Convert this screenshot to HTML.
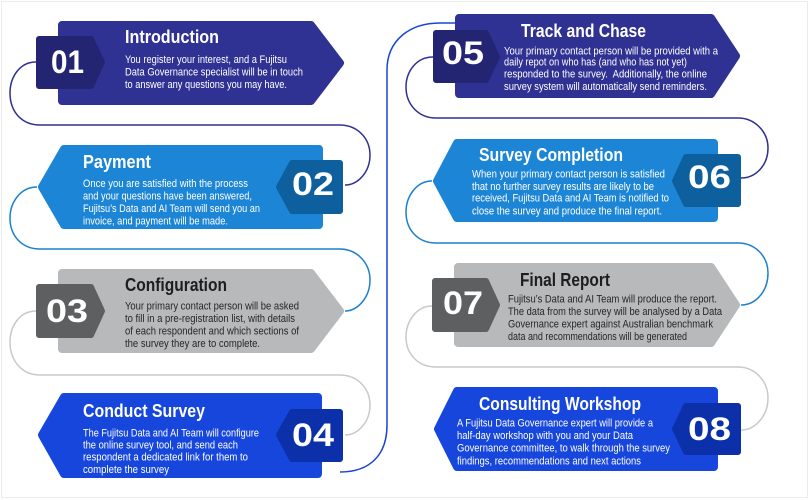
<!DOCTYPE html>
<html><head><meta charset="utf-8"><style>
html,body{margin:0;padding:0;background:#fff;}
svg{display:block;}
text{font-family:"Liberation Sans",Arial,sans-serif;}
.t{font-size:18px;font-weight:bold;fill:#fff;}
.td{font-size:18px;font-weight:bold;fill:#1e1e1e;}
.b{font-size:11px;fill:#fff;}
.bd{font-size:11px;fill:#262626;}
.n{font-size:32px;font-weight:bold;fill:#fff;}
</style></head><body>
<svg width="809" height="500" viewBox="0 0 809 500" xmlns="http://www.w3.org/2000/svg">
<rect x="0" y="0" width="809" height="500" fill="#fff"/>
<rect x="1.5" y="1.5" width="806" height="496" fill="none" stroke="#ececec" stroke-width="1"/>

<g fill="none" stroke-width="1.5">
<path d="M36 62 C19 62 10 78 10 93 C10 112 22 125 40 125 L340 125 C357 125 370 138 370 155 C370 172 358 185 345 185" stroke="#2e3192"/>
<path d="M37 187 C20 187 10 203 10 218 C10 236 22 249 40 249 L340 249 C357 249 370 263 370 280 C370 297 358 311 345 311" stroke="#1b7fd0"/>
<path d="M36 311 C19 311 10 327 10 342 C10 361 22 375 40 375 L340 375 C357 375 370 388 370 405 C370 422 358 435 345 435" stroke="#c9c9c9"/>
<path d="M340 472 C370 472 387 455 387 425 L387 70 C387 40 410 23 440 23 L460 23" stroke="#1a45d8"/>
<path d="M433 57 C416 57 406 72 406 87 C406 104 418 118 436 118 L738 118 C755 118 768 132 768 148 C768 165 756 178 741 178" stroke="#2e3192"/>
<path d="M432 181 C416 181 406 197 406 212 C406 230 418 243 436 243 L738 243 C755 243 768 256 768 273 C768 291 756 305 741 305" stroke="#1b7fd0"/>
<path d="M432 306 C416 306 406 322 406 337 C406 354 418 367 436 367 L738 367 C755 367 768 381 768 398 C768 415 756 430 741 430" stroke="#c9c9c9"/>
</g>

<g stroke-linejoin="round" stroke-width="8">
<polygon points="62,25 311,25 340,63 311,101 62,101" fill="#2f3193" stroke="#2f3193"/>
<polygon points="64,149 319,149 319,225 64,225 42,187" fill="#1c85d6" stroke="#1c85d6"/>
<polygon points="62,273 311,273 340,311 311,349 62,349" fill="#b8b9bb" stroke="#b8b9bb"/>
<polygon points="64,397 318,397 318,474 64,474 42,435" fill="#1646dc" stroke="#1646dc"/>
<polygon points="459,18 711,18 736,56 711,94 459,94" fill="#2f3193" stroke="#2f3193"/>
<polygon points="457,143 714,143 714,218 457,218 437,181" fill="#1c85d6" stroke="#1c85d6"/>
<polygon points="458,267 711,267 736,305 711,343 458,343" fill="#b8b9bb" stroke="#b8b9bb"/>
<polygon points="457,391 714,391 714,467 457,467 438,429" fill="#1646dc" stroke="#1646dc"/>
</g>
<g stroke-linejoin="round" stroke-width="6">
<polygon points="39,39 91,39 102,62 91,86 39,86" fill="#232573" stroke="#232573"/>
<polygon points="292,163 340,163 340,211 292,211 279,187" fill="#0d5f9e" stroke="#0d5f9e"/>
<polygon points="39,287 91,287 102,311 91,335 39,335" fill="#5e5f61" stroke="#5e5f61"/>
<polygon points="292,412 340,412 340,459 292,459 279,435" fill="#0b30aa" stroke="#0b30aa"/>
<polygon points="436,33 486,33 497,57 486,80 436,80" fill="#232573" stroke="#232573"/>
<polygon points="686,157 738,157 738,204 686,204 675,181" fill="#0d5f9e" stroke="#0d5f9e"/>
<polygon points="435,281 486,281 497,305 486,329 435,329" fill="#5e5f61" stroke="#5e5f61"/>
<polygon points="686,406 738,406 738,452 686,452 675,429" fill="#0b30aa" stroke="#0b30aa"/>
</g>

<text class="n" x="51" y="73" textLength="33" lengthAdjust="spacingAndGlyphs">01</text>
<text class="n" x="292" y="195" textLength="42" lengthAdjust="spacingAndGlyphs">02</text>
<text class="n" x="46" y="322" textLength="42" lengthAdjust="spacingAndGlyphs">03</text>
<text class="n" x="292" y="446" textLength="42" lengthAdjust="spacingAndGlyphs">04</text>
<text class="n" x="442" y="64" textLength="42" lengthAdjust="spacingAndGlyphs">05</text>
<text class="n" x="688" y="188" textLength="43" lengthAdjust="spacingAndGlyphs">06</text>
<text class="n" x="443" y="314" textLength="40" lengthAdjust="spacingAndGlyphs">07</text>
<text class="n" x="688" y="440" textLength="43" lengthAdjust="spacingAndGlyphs">08</text>

<text class="t" x="125" y="43" textLength="94" lengthAdjust="spacingAndGlyphs">Introduction</text>
<text class="b" x="125" y="63" textLength="162" lengthAdjust="spacingAndGlyphs">You register your interest, and a Fujitsu</text>
<text class="b" x="125" y="75.5" textLength="178" lengthAdjust="spacingAndGlyphs">Data Governance specialist will be in touch</text>
<text class="b" x="125" y="88" textLength="162" lengthAdjust="spacingAndGlyphs">to answer any questions you may have.</text>

<text class="t" x="83" y="168" textLength="68" lengthAdjust="spacingAndGlyphs">Payment</text>
<text class="b" x="83" y="187" textLength="165" lengthAdjust="spacingAndGlyphs">Once you are satisfied with the process</text>
<text class="b" x="83" y="199.5" textLength="169" lengthAdjust="spacingAndGlyphs">and your questions have been answered,</text>
<text class="b" x="83" y="212" textLength="177" lengthAdjust="spacingAndGlyphs">Fujitsu’s Data and AI Team will send you an</text>
<text class="b" x="83" y="224.5" textLength="145" lengthAdjust="spacingAndGlyphs">invoice, and payment will be made.</text>

<text class="td" x="125" y="291" textLength="102" lengthAdjust="spacingAndGlyphs">Configuration</text>
<text class="bd" x="125" y="309.5" textLength="174" lengthAdjust="spacingAndGlyphs">Your primary contact person will be asked</text>
<text class="bd" x="125" y="322" textLength="170" lengthAdjust="spacingAndGlyphs">to fill in a pre-registration list, with details</text>
<text class="bd" x="125" y="334.5" textLength="174" lengthAdjust="spacingAndGlyphs">of each respondent and which sections of</text>
<text class="bd" x="125" y="347" textLength="135" lengthAdjust="spacingAndGlyphs">the survey they are to complete.</text>

<text class="t" x="83" y="417" textLength="122" lengthAdjust="spacingAndGlyphs">Conduct Survey</text>
<text class="b" x="83" y="436.5" textLength="176" lengthAdjust="spacingAndGlyphs">The Fujitsu Data and AI Team will configure</text>
<text class="b" x="83" y="448.5" textLength="155" lengthAdjust="spacingAndGlyphs">the online survey tool, and send each</text>
<text class="b" x="83" y="460.5" textLength="165" lengthAdjust="spacingAndGlyphs">respondent a dedicated link for them to</text>
<text class="b" x="83" y="473" textLength="86" lengthAdjust="spacingAndGlyphs">complete the survey</text>

<text class="t" x="521" y="37" textLength="125" lengthAdjust="spacingAndGlyphs">Track and Chase</text>
<text class="b" x="504" y="54.5" textLength="214" lengthAdjust="spacingAndGlyphs">Your primary contact person will be provided with a</text>
<text class="b" x="504" y="65.5" textLength="183" lengthAdjust="spacingAndGlyphs">daily repot on who has (and who has not yet)</text>
<text class="b" x="504" y="77.5" textLength="203" lengthAdjust="spacingAndGlyphs" style="white-space:pre">responded to the survey.  Additionally, the online</text>
<text class="b" x="504" y="90" textLength="203" lengthAdjust="spacingAndGlyphs">survey system will automatically send reminders.</text>

<text class="t" x="479" y="161" textLength="144" lengthAdjust="spacingAndGlyphs">Survey Completion</text>
<text class="b" x="472" y="177.5" textLength="193" lengthAdjust="spacingAndGlyphs">When your primary contact person is satisfied</text>
<text class="b" x="472" y="190" textLength="182" lengthAdjust="spacingAndGlyphs">that no further survey results are likely to be</text>
<text class="b" x="472" y="201.5" textLength="197" lengthAdjust="spacingAndGlyphs">received, Fujitsu Data and AI Team is notified to</text>
<text class="b" x="472" y="214.5" textLength="190" lengthAdjust="spacingAndGlyphs">close the survey and produce the final report.</text>

<text class="td" x="520" y="286" textLength="90" lengthAdjust="spacingAndGlyphs">Final Report</text>
<text class="bd" x="508" y="302.5" textLength="209" lengthAdjust="spacingAndGlyphs">Fujitsu’s Data and AI Team will produce the report.</text>
<text class="bd" x="508" y="315" textLength="214" lengthAdjust="spacingAndGlyphs">The data from the survey will be analysed by a Data</text>
<text class="bd" x="508" y="327.5" textLength="205" lengthAdjust="spacingAndGlyphs">Governance expert against Australian benchmark</text>
<text class="bd" x="508" y="340" textLength="179" lengthAdjust="spacingAndGlyphs">data and recommendations will be generated</text>

<text class="t" x="479" y="410" textLength="162" lengthAdjust="spacingAndGlyphs">Consulting Workshop</text>
<text class="b" x="457" y="426.5" textLength="196" lengthAdjust="spacingAndGlyphs">A Fujitsu Data Governance expert will provide a</text>
<text class="b" x="457" y="439" textLength="176" lengthAdjust="spacingAndGlyphs">half-day workshop with you and your Data</text>
<text class="b" x="457" y="451.5" textLength="213" lengthAdjust="spacingAndGlyphs">Governance committee, to walk through the survey</text>
<text class="b" x="457" y="464.5" textLength="184" lengthAdjust="spacingAndGlyphs">findings, recommendations and next actions</text>
</svg>
</body></html>
